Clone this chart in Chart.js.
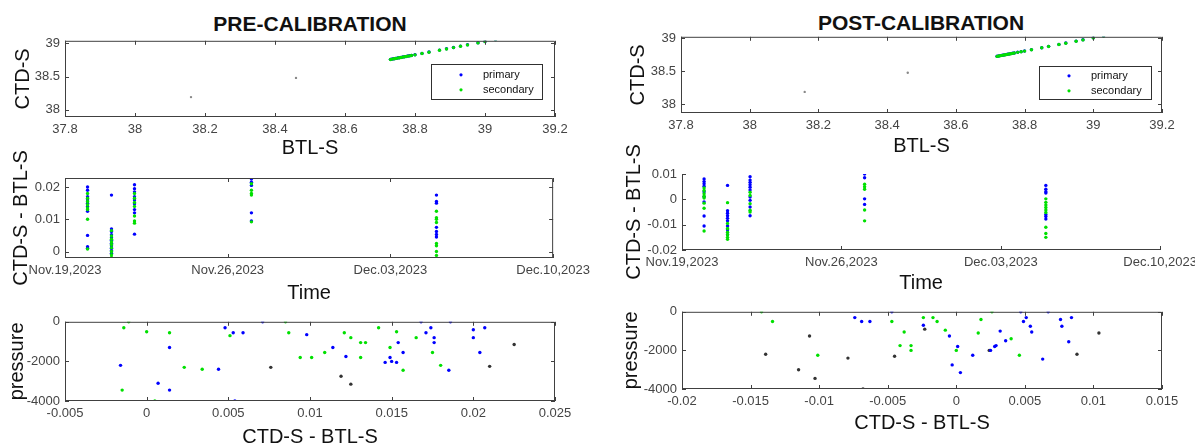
<!DOCTYPE html>
<html>
<head>
<meta charset="utf-8">
<script src="https://cdn.jsdelivr.net/npm/chart.js@4/dist/chart.umd.min.js"></script>
<style>
html, body { margin:0; padding:0; background:#fff; width:1195px; height:445px; overflow:hidden; position:relative; }
canvas { position:absolute; }
.ttl { position:absolute; font:bold 21px "Liberation Sans", Arial, sans-serif; color:#111; transform:translate(-50%,-50%); white-space:nowrap; }
</style>
</head>
<body>
<div class="ttl" style="left:310px;top:24px">PRE-CALIBRATION</div>
<div class="ttl" style="left:921px;top:23px">POST-CALIBRATION</div>
<script>
// series names
var seriesNames = ['primary', 'secondary'];
var seriesColors = ['#0000ff', '#00e000', '#333333'];

// tick labels
var btlTicks = [37.8, 38, 38.2, 38.4, 38.6, 38.8, 39, 39.2];
var ctdTicks = [38, 38.5, 39];
var dayTicks = [0, 7, 14, 21];
var dateLabels = ['Nov.19,2023', 'Nov.26,2023', 'Dec.03,2023', 'Dec.10,2023'];
var diffTicksPre = [0, 0.01, 0.02];
var diffTicksPost = [-0.02, -0.01, 0, 0.01];
var presTicks = [-4000, -2000, 0];
var diffXTicksPre = [-0.005, 0, 0.005, 0.01, 0.015, 0.02, 0.025];
var diffXTicksPost = [-0.02, -0.015, -0.01, -0.005, 0, 0.005, 0.01, 0.015];

// CTD-S vs BTL-S
var btlPre = [38.73,38.735,38.74,38.745,38.75,38.755,38.76,38.765,38.77,38.775,38.78,38.785,38.79,38.80,38.82,38.84,38.87,38.89,38.91,38.93,38.95,38.98,39.00,39.03];
var ctdPrePrimary = [38.76,38.765,38.77,38.775,38.78,38.785,38.79,38.795,38.80,38.805,38.81,38.815,38.82,38.83,38.85,38.87,38.90,38.92,38.94,38.96,38.98,39.01,39.03,39.06];
var ctdPreSecondary = [38.758,38.764,38.768,38.774,38.779,38.784,38.788,38.794,38.799,38.803,38.809,38.813,38.818,38.828,38.848,38.867,38.897,38.917,38.937,38.957,38.978,39.008,39.028,39.058];
var btlPost = [38.72,38.725,38.73,38.735,38.74,38.745,38.75,38.755,38.76,38.765,38.77,38.78,38.79,38.80,38.82,38.85,38.87,38.90,38.92,38.95,38.97,39.00,39.03];
var ctdPostPrimary = [38.73,38.735,38.74,38.745,38.75,38.755,38.76,38.765,38.77,38.775,38.78,38.79,38.80,38.81,38.83,38.86,38.88,38.91,38.93,38.96,38.98,39.01,39.04];
var ctdPostSecondary = [38.728,38.734,38.739,38.744,38.748,38.754,38.759,38.764,38.769,38.774,38.779,38.789,38.799,38.808,38.828,38.858,38.878,38.908,38.928,38.958,38.978,39.008,39.038];
var btlOther = [38.46, 38.16];
var ctdOther = [38.48, 38.19];

// cast times, days after Nov.19,2023
var castDays = [0.97, 2.0, 2.99, 8.02, 15.98];

// CTD-S - BTL-S per cast
var diffPrePrimary = [
  [0.0200, 0.0190, 0.0170, 0.0160, 0.0150, 0.0140, 0.0125, 0.0050, 0.0015, 0.0010],
  [0.0175, 0.0070, 0.0062, 0.0052, 0.0043, 0.0035, 0.0026, 0.0018, 0.0010, 0.0003, -0.0005],
  [0.0207, 0.0195, 0.0185, 0.0170, 0.0160, 0.0148, 0.0130, 0.0120, 0.0054],
  [0.0225, 0.0215, 0.0205, 0.0120, 0.0095],
  [0.0175, 0.0155, 0.0150, 0.0075, 0.0062, 0.0053, 0.0045]
];
var diffPreSecondary = [
  [0.0180, 0.0165, 0.0155, 0.0145, 0.0135, 0.0130, 0.0100, 0.0008],
  [0.0065, 0.0048, 0.0038, 0.0030, 0.0022, 0.0012, 0.0000, -0.0010, -0.0018],
  [0.0180, 0.0165, 0.0152, 0.0140, 0.0110, 0.0095, 0.0088],
  [0.0210, 0.0190, 0.0180, 0.0175, 0.0092],
  [0.0125, 0.0105, 0.0100, 0.0090, 0.0025, 0.0018, 0.0000, -0.0012]
];
var diffPostPrimary = [
  [0.0080, 0.0070, 0.0062, 0.0052, 0.0030, 0.0010, -0.0010, -0.0066, -0.0105],
  [0.0055, -0.0045, -0.0055, -0.0065, -0.0075, -0.0085, -0.0105, -0.0120, -0.0140],
  [0.0089, 0.0076, 0.0067, 0.0058, 0.0048, 0.0037, 0.0009, -0.0004, -0.0030, -0.0065],
  [0.0100, 0.0085, 0.0002, -0.0020],
  [0.0055, 0.0040, 0.0030, 0.0025, -0.0060, -0.0068, -0.0078]
];
var diffPostSecondary = [
  [0.0045, 0.0035, 0.0022, 0.0012, 0.0005, -0.0015, -0.0035, -0.0125],
  [-0.0013, -0.0095, -0.0115, -0.0130, -0.0140, -0.0150, -0.0158],
  [0.0028, 0.0015, -0.0017, -0.0043, -0.0050],
  [0.0060, 0.0050, 0.0040, -0.0042, -0.0085],
  [0.0002, -0.0012, -0.0022, -0.0032, -0.0042, -0.0052, -0.0110, -0.0135, -0.0150]
];

// pressure vs CTD-S - BTL-S
var preDiffP = [0.0048,0.0053,0.0059,0.0071,0.0098,0.0114,0.0122,0.0150,0.0149,0.0153,0.0154,0.0146,0.0157,0.0168,0.0171,0.0174,0.0176,0.0176,0.0186,0.0185,0.0200,0.0200,0.0207,0.0204,0.0044,0.0007,0.0014,0.0014,-0.0016,0.0054];
var prePresP = [-300,-550,-550,0,-650,-1300,-1750,-2000,-1800,-2050,-1050,-2050,-1550,0,-550,-300,-800,-1050,0,-2450,-400,-800,-300,-1550,-2400,-3100,-3450,-1300,-2200,-4000];
var preDiffS = [-0.0014,-0.0011,0.0000,0.0014,0.0023,0.0034,-0.0015,0.0051,0.0087,0.0101,0.0109,0.0121,0.0125,0.0131,0.0134,0.0142,0.0149,0.0153,0.0165,0.0175,0.0180,0.0131,0.0005,0.0085,0.0157,0.0094];
var prePresS = [-300,0,-500,-550,-2300,-2400,-3450,-700,-550,-1800,-1550,-550,-800,-1050,-1050,-300,-1300,-500,-800,-1550,-2200,-1800,-4000,0,-2450,-1800];
var preDiffOther = [0.0076, 0.0119, 0.0125, 0.0210, 0.0225];
var prePresOther = [-2300, -2750, -3150, -2250, -1150];

var postDiffP = [-0.0074,-0.0069,-0.0063,-0.0047,-0.0024,0.0001,-0.0003,0.0003,0.0012,0.0025,0.0028,0.0032,0.0036,0.0047,0.0049,0.0051,0.0054,0.0055,0.0067,0.0076,0.0077,0.0084,0.0082,0.0063,-0.0005,0.0029];
var postPresP = [-300,-500,-500,0,-700,-1800,-2750,-3150,-2250,-2000,-1800,-1000,-1500,0,-500,-300,-750,-1050,0,-400,-750,-300,-1550,-2450,-1250,-1750];
var postDiffS = [-0.0142,-0.0134,-0.0047,-0.0024,-0.0014,-0.0008,-0.0041,-0.0033,-0.0033,-0.0038,-0.0101,0.0016,0.0018,0.0026,0.0040,0.0046,0.0000,-0.0017];
var postPresS = [0,-500,-500,-300,-500,-950,-1750,-1750,-2000,-1050,-2250,-1100,-400,0,-1400,-2250,-2000,-300];
var postDiffOther = [-0.0139,-0.0115,-0.0107,-0.0103,-0.0068,-0.0079,-0.0045,0.0024,0.0088,0.0104,-0.0023];
var postPresOther = [-2200,-3000,-1250,-3450,-4000,-2400,-2300,-2000,-2200,-1100,-900];

Chart.defaults.font.family = '"Liberation Sans", Arial, Helvetica, sans-serif';

function pairs(xs, ys) { return xs.map(function (x, i) { return {x: x, y: ys[i]}; }); }
function castPoints(groups) {
  var out = [];
  groups.forEach(function (g, i) { g.forEach(function (v) { out.push({x: castDays[i], y: v}); }); });
  return out;
}
// lower order is drawn on top, so secondary (order 0) sits over primary
function ds(label, pts, color, order, r) {
  return {label: label, data: pts, backgroundColor: color, borderColor: color, pointRadius: r || 1.7, pointBorderWidth: 0, showLine: false, order: order};
}

// MATLAB-like box with inward ticks
var matlabAxes = {
  id: 'matlabAxes',
  afterDatasetsDraw: function (chart, args, opts) {
    var ctx = chart.ctx, a = chart.chartArea, xs = chart.scales.x, ys = chart.scales.y, L = 4;
    ctx.save();
    ctx.strokeStyle = '#404040';
    ctx.lineWidth = 1;
    ctx.beginPath();
    ctx.moveTo(a.left + 0.5, a.top); ctx.lineTo(a.left + 0.5, a.bottom - 0.5); ctx.lineTo(a.right, a.bottom - 0.5);
    if (opts.box) { ctx.moveTo(a.left, a.top + 0.5); ctx.lineTo(a.right - 0.5, a.top + 0.5); ctx.lineTo(a.right - 0.5, a.bottom); }
    xs.ticks.forEach(function (t) {
      var p = Math.round(xs.getPixelForValue(t.value)) + 0.5;
      ctx.moveTo(p, a.bottom); ctx.lineTo(p, a.bottom - L);
      if (opts.box) { ctx.moveTo(p, a.top); ctx.lineTo(p, a.top + L); }
    });
    ys.ticks.forEach(function (t) {
      var p = Math.round(ys.getPixelForValue(t.value)) + 0.5;
      ctx.moveTo(a.left, p); ctx.lineTo(a.left + L, p);
      if (opts.box) { ctx.moveTo(a.right, p); ctx.lineTo(a.right - L, p); }
    });
    ctx.stroke();
    ctx.restore();
  }
};

// legend box drawn inside the axes
var boxLegend = {
  id: 'boxLegend',
  afterDraw: function (chart, args, opts) {
    if (!opts.show) return;
    var ctx = chart.ctx, a = chart.chartArea;
    var x0 = a.right - opts.right - opts.w, y0 = a.top + opts.top;
    ctx.save();
    ctx.fillStyle = '#fff';
    ctx.fillRect(x0, y0, opts.w, opts.h);
    ctx.strokeStyle = '#303030';
    ctx.lineWidth = 1;
    ctx.strokeRect(Math.round(x0) + 0.5, Math.round(y0) + 0.5, opts.w, opts.h);
    ctx.font = '11px "Liberation Sans", Arial, sans-serif';
    ctx.textBaseline = 'middle';
    var row = 0;
    chart.data.datasets.forEach(function (d) {
      if (!d.label) return;
      var yy = y0 + opts.rowY[row];
      ctx.fillStyle = d.backgroundColor;
      ctx.beginPath(); ctx.arc(x0 + 30, yy, 1.6, 0, Math.PI * 2); ctx.fill();
      ctx.fillStyle = '#111';
      ctx.fillText(d.label, x0 + 52, yy);
      row++;
    });
    ctx.restore();
  }
};

function axis(min, max, tickVals, titleText, isX, size, labelFn) {
  return {
    type: 'linear', min: min, max: max,
    grid: {display: false, drawTicks: false}, border: {display: false},
    ticks: {
      color: '#444', font: {size: 13}, padding: 5, autoSkip: false, maxRotation: 0,
      callback: labelFn || function (v) { return String(v); }
    },
    title: {display: true, text: titleText, color: '#111', font: {size: 20}, padding: 0},
    afterBuildTicks: function (s) { s.ticks = tickVals.map(function (v) { return {value: v}; }); },
    afterFit: function (s) { if (isX) { s.height = size; } else { s.width = size; } }
  };
}

function makePanel(o) {
  var half = 12;
  var yW = o.box.l - (o.yTitleX - half);
  var xH = (o.xTitleY + half) - o.box.b;
  var cv = document.createElement('canvas');
  cv.width = yW + (o.box.r - o.box.l) + o.padR;
  cv.height = o.padT + (o.box.b - o.box.t) + xH;
  cv.style.left = (o.box.l - yW) + 'px';
  cv.style.top = (o.box.t - o.padT) + 'px';
  document.body.appendChild(cv);
  return new Chart(cv, {
    type: 'scatter',
    data: {datasets: o.datasets},
    options: {
      responsive: false, animation: false, devicePixelRatio: 1,
      layout: {padding: {top: o.padT, right: o.padR, left: 0, bottom: 0}},
      plugins: {
        legend: {display: false}, tooltip: {enabled: false},
        matlabAxes: {box: o.box.on},
        boxLegend: o.legend || {show: false}
      },
      scales: {
        x: axis(o.x[0], o.x[1], o.x[2], o.xTitle, true, xH, o.xLabel),
        y: axis(o.y[0], o.y[1], o.y[2], o.yTitle, false, yW)
      }
    },
    plugins: [matlabAxes, boxLegend]
  });
}

function dateLabel(v) { return dateLabels[dayTicks.indexOf(v)]; }

// PRE-CALIBRATION
makePanel({
  box: {l: 65, t: 38, r: 555, b: 117, on: true}, yTitleX: 23, xTitleY: 148, padT: 10, padR: 25,
  x: [37.8, 39.2, btlTicks], y: [37.89, 39.04, ctdTicks], xTitle: 'BTL-S', yTitle: 'CTD-S',
  legend: {show: true, right: 13, top: 23, w: 111, h: 35, rowY: [11, 26]},
  datasets: [ds('', pairs(btlOther, ctdOther), '#888888', 2, 1.2),
             ds(seriesNames[0], pairs(btlPre, ctdPrePrimary), seriesColors[0], 1),
             ds(seriesNames[1], pairs(btlPre, ctdPreSecondary), seriesColors[1], 0)]
});
makePanel({
  box: {l: 65, t: 178, r: 555, b: 258, on: true}, yTitleX: 21, xTitleY: 293, padT: 30, padR: 40,
  x: [0, 21, dayTicks], y: [-0.002, 0.0228, diffTicksPre], xTitle: 'Time', yTitle: 'CTD-S - BTL-S', xLabel: dateLabel,
  datasets: [ds(seriesNames[0], castPoints(diffPrePrimary), seriesColors[0], 1),
             ds(seriesNames[1], castPoints(diffPreSecondary), seriesColors[1], 0)]
});
makePanel({
  box: {l: 65, t: 321, r: 555, b: 401, on: true}, yTitleX: 17, xTitleY: 437, padT: 12, padR: 25,
  x: [-0.005, 0.025, diffXTicksPre], y: [-4000, 0, presTicks], xTitle: 'CTD-S - BTL-S', yTitle: 'pressure',
  datasets: [ds('', pairs(preDiffOther, prePresOther), seriesColors[2], 2),
             ds(seriesNames[0], pairs(preDiffP, prePresP), seriesColors[0], 1),
             ds(seriesNames[1], pairs(preDiffS, prePresS), seriesColors[1], 0)]
});

// POST-CALIBRATION
makePanel({
  box: {l: 681, t: 34, r: 1162, b: 113, on: true}, yTitleX: 638, xTitleY: 146, padT: 10, padR: 25,
  x: [37.8, 39.2, btlTicks], y: [37.87, 39.025, ctdTicks], xTitle: 'BTL-S', yTitle: 'CTD-S',
  legend: {show: true, right: 11, top: 29, w: 112, h: 33, rowY: [10, 25]},
  datasets: [ds('', pairs(btlOther, ctdOther), '#888888', 2, 1.2),
             ds(seriesNames[0], pairs(btlPost, ctdPostPrimary), seriesColors[0], 1),
             ds(seriesNames[1], pairs(btlPost, ctdPostSecondary), seriesColors[1], 0)]
});
makePanel({
  box: {l: 682, t: 174, r: 1162, b: 250, on: false}, yTitleX: 634, xTitleY: 283, padT: 42, padR: 40,
  x: [0, 21, dayTicks], y: [-0.02, 0.01, diffTicksPost], xTitle: 'Time', yTitle: 'CTD-S - BTL-S', xLabel: dateLabel,
  datasets: [ds(seriesNames[0], castPoints(diffPostPrimary), seriesColors[0], 1),
             ds(seriesNames[1], castPoints(diffPostSecondary), seriesColors[1], 0)]
});
makePanel({
  box: {l: 682, t: 311, r: 1162, b: 389, on: true}, yTitleX: 631, xTitleY: 423, padT: 12, padR: 25,
  x: [-0.02, 0.015, diffXTicksPost], y: [-4000, 0, presTicks], xTitle: 'CTD-S - BTL-S', yTitle: 'pressure',
  datasets: [ds('', pairs(postDiffOther, postPresOther), seriesColors[2], 2),
             ds(seriesNames[0], pairs(postDiffP, postPresP), seriesColors[0], 1),
             ds(seriesNames[1], pairs(postDiffS, postPresS), seriesColors[1], 0)]
});
</script>
</body>
</html>
